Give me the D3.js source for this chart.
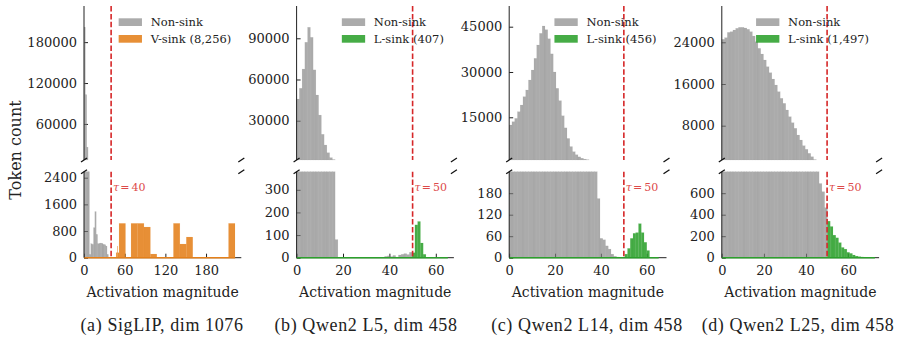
<!DOCTYPE html>
<html>
<head>
<meta charset="utf-8">
<title>Sink token activation histograms</title>
<script src="https://d3js.org/d3.v7.min.js"></script>
<style>
  body { margin: 0; background: #fff; }
  svg text { font-family: "DejaVu Serif", serif; fill: #222; }
</style>
</head>
<body>
<svg width="908" height="338"></svg>
<script>

// ---------- data ----------

// (a) SigLIP, non-sink counts in bins of 2 starting at 0
const aGrayWidth = 2;
const aGrayCount = [202000, 103000, 26000, 4000, 100, 420, 400, 900, 1380, 700,
                    420, 430, 440, 430, 400, 390, 350, 100];
// (a) V-sink bins (low edge, high edge, count)
const aSinkLo    = [47.4, 49.0, 49.8, 51.7, 69.4, 78.9, 88.4, 97.9, 131.9, 141.4, 150.9, 213.2];
const aSinkHi    = [49.0, 49.8, 51.7, 61.2, 78.9, 88.4, 97.9, 107.4, 141.4, 150.9, 160.4, 222.7];
const aSinkCount = [150, 350, 150, 1030, 1030, 1030, 920, 110, 1030, 410, 620, 1030];

// (b) Qwen2 L5
const bBinWidth = 1.186;
const bGrayCount = [45800, 53600, 67600, 87100, 98000, 90700, 67000, 48700, 34100, 20100,
                    12300, 6700, 3100, 1700, 80, 0, 0, 0, 0, 0,
                    0, 0, 0, 0, 0, 0, 0, 0, 0, 0,
                    0, 0, 6, 8, 5, 10, 3, 12, 15, 18,
                    14, 24];
const bSinkFirstBin = 42;
const bSinkCount = [22, 145, 160, 65, 15];

// (c) Qwen2 L14
const cBinWidth = 1.2;
const cGrayCount = [12450, 13540, 14640, 16850, 19060, 21820, 24030, 27340, 30650, 34520,
                    38930, 42800, 45230, 44000, 41000, 36000, 30000, 24600, 20500, 15500,
                    11500, 8000, 5300, 3600, 2600, 1900, 1450, 1150, 950, 700,
                    500, 350, 165, 54, 50, 33, 24, 10, 4, 2];
const cSinkFirstBin = 42;
const cSinkCount = [10, 26, 54, 68, 70, 95, 70, 43, 20];

// (d) Qwen2 L25
const dBinWidth = 1.32;
const dGrayCount = [24570, 24880, 25900, 26030, 26350, 26680, 26870, 26870, 26740, 26490,
                    26030, 25200, 24110, 22840, 21750, 20600, 19310, 18160, 16950, 15800,
                    14520, 13250, 12290, 11010, 9720, 8570, 7500, 6210, 5250, 4160,
                    3470, 2700, 2050, 1500, 1000, 690, 614, 465];
const dSinkFirstBin = 38;
const dSinkCount = [340, 290, 210, 185, 140, 95, 80, 50, 40, 25, 15, 10, 7, 5, 3, 2];

// axis settings per panel
const xDomains   = [[0, 232], [0, 67.8], [0, 68.6], [0, 74.7]];
const xTicks     = [[0, 60, 120, 180], [0, 20, 40, 60], [0, 20, 40, 60], [0, 20, 40, 60]];
const topDomains = [[7100, 233000], [1400, 113500], [860, 51850], [1420, 30960]];
const topTicks   = [[60000, 120000, 180000], [30000, 60000, 90000], [15000, 30000, 45000], [8000, 16000, 24000]];
const botDomains = [[0, 2580], [0, 380], [0, 240], [0, 800]];
const botTicks   = [[0, 800, 1600, 2400], [0, 100, 200, 300], [0, 60, 120, 180], [0, 200, 400, 600]];
const taus       = [40, 50, 50, 50];
const sinkEnds   = [223, 65.2, 65.2, 72.7];
const sinkLabels = ['V-sink (8,256)', 'L-sink (407)', 'L-sink (456)', 'L-sink (1,497)'];
const captions   = ['(a) SigLIP, dim 1076', '(b) Qwen2 L5, dim 458', '(c) Qwen2 L14, dim 458', '(d) Qwen2 L25, dim 458'];

// ---------- helpers ----------

const binned = (width, counts, first = 0) =>
    counts.map((n, i) => ({ lo: (first + i) * width, hi: (first + i + 1) * width, n }));

const grayBins = [
    binned(aGrayWidth, aGrayCount),
    binned(bBinWidth, bGrayCount),
    binned(cBinWidth, cGrayCount),
    binned(dBinWidth, dGrayCount)
];
const sinkBins = [
    aSinkCount.map((n, i) => ({ lo: aSinkLo[i], hi: aSinkHi[i], n })),
    binned(bBinWidth, bSinkCount, bSinkFirstBin),
    binned(cBinWidth, cSinkCount, cSinkFirstBin),
    binned(dBinWidth, dSinkCount, dSinkFirstBin)
];

const ORANGE = '#e4801a', GREEN = '#2ca02c', GRAY = '#7f7f7f', RED = '#d62728';
const sinkColors = [ORANGE, GREEN, GREEN, GREEN];

// ---------- layout ----------

const svg = d3.select('svg');
const panelW = 157.3, panelStep = 212.6, left0 = 84;
const topY = [6, 160];
const botY = [171.7, 257.7];
const captionX = [162, 366, 587, 798];

svg.append('text')
    .attr('transform', 'translate(15,150) rotate(-90)')
    .attr('text-anchor', 'middle')
    .attr('dominant-baseline', 'central')
    .style('font-size', '16px')
    .text('Token count');

xDomains.forEach((xd, i) => {
    const g = svg.append('g').attr('transform', `translate(${left0 + panelStep * i},0)`);

    const x = d3.scaleLinear().domain(xd).range([0, panelW]);
    const yT = d3.scaleLinear().domain(topDomains[i]).range([topY[1], topY[0]]);
    const yB = d3.scaleLinear().domain(botDomains[i]).range([botY[1], botY[0]]);

    // axes (ticks point inward, spines drawn later)
    const styleAxis = sel => {
        sel.select('.domain').remove();
        sel.selectAll('.tick line').attr('stroke', '#222');
        sel.selectAll('.tick text').style('font-size', '13px').attr('fill', '#222');
    };
    g.append('g')
        .call(d3.axisLeft(yT).tickValues(topTicks[i]).tickFormat(d3.format('d'))
            .tickSizeInner(-4).tickSizeOuter(0).tickPadding(7))
        .call(styleAxis);
    g.append('g')
        .call(d3.axisLeft(yB).tickValues(botTicks[i]).tickFormat(d3.format('d'))
            .tickSizeInner(-4).tickSizeOuter(0).tickPadding(7))
        .call(styleAxis);
    g.append('g')
        .attr('transform', `translate(0,${botY[1]})`)
        .call(d3.axisBottom(x).tickValues(xTicks[i]).tickFormat(d3.format('d'))
            .tickSizeInner(-4).tickSizeOuter(0).tickPadding(8))
        .call(styleAxis);

    // histogram bars, drawn in both halves of the broken axis
    const drawBars = (data, color) => {
        const [tMin, tMax] = topDomains[i];
        const bMax = botDomains[i][1];
        const op = color === GRAY ? 0.66 : 0.88;
        g.append('g').selectAll('rect')
            .data(data.filter(d => d.n > tMin))
            .join('rect')
            .attr('x', d => x(d.lo))
            .attr('width', d => x(d.hi) - x(d.lo))
            .attr('y', d => yT(Math.min(d.n, tMax)))
            .attr('height', d => topY[1] - yT(Math.min(d.n, tMax)))
            .attr('fill', color).attr('fill-opacity', op)
            .attr('stroke', color).attr('stroke-opacity', 0.2).attr('stroke-width', 0.4);
        g.append('g').selectAll('rect')
            .data(data.filter(d => d.n > 0))
            .join('rect')
            .attr('x', d => x(d.lo))
            .attr('width', d => x(d.hi) - x(d.lo))
            .attr('y', d => yB(Math.min(d.n, bMax)))
            .attr('height', d => botY[1] - yB(Math.min(d.n, bMax)))
            .attr('fill', color).attr('fill-opacity', op)
            .attr('stroke', color).attr('stroke-opacity', 0.2).attr('stroke-width', 0.4);
    };
    drawBars(grayBins[i], GRAY);
    drawBars(sinkBins[i], sinkColors[i]);

    // spines
    g.append('line').attr('x1', 0).attr('x2', panelW).attr('y1', botY[1]).attr('y2', botY[1])
        .attr('stroke', '#222').attr('stroke-width', 1);
    g.append('line').attr('x1', x(0)).attr('x2', x(sinkEnds[i])).attr('y1', botY[1]).attr('y2', botY[1])
        .attr('stroke', sinkColors[i]).attr('stroke-width', 1.4);
    g.append('line').attr('x1', 0).attr('x2', 0).attr('y1', topY[0]).attr('y2', topY[1])
        .attr('stroke', '#222').attr('stroke-width', 1);
    g.append('line').attr('x1', 0).attr('x2', 0).attr('y1', botY[0]).attr('y2', botY[1])
        .attr('stroke', '#222').attr('stroke-width', 1);

    // break marks
    [[0, topY[1]], [panelW, topY[1]], [0, botY[0]], [panelW, botY[0]]].forEach(([bx, by]) => {
        g.append('line')
            .attr('x1', bx - 3).attr('y1', by + 2)
            .attr('x2', bx + 3).attr('y2', by - 2)
            .attr('stroke', '#111').attr('stroke-width', 1.3);
    });

    // threshold
    const tx = x(taus[i]);
    [topY, botY].forEach(yr => {
        g.append('line')
            .attr('x1', tx).attr('x2', tx).attr('y1', yr[0]).attr('y2', yr[1])
            .attr('stroke', RED).attr('stroke-width', 1.6)
            .attr('stroke-dasharray', '5.5,2.4');
    });
    const tau = g.append('text')
        .attr('x', tx + 2).attr('y', 191)
        .style('font-size', '11px')
        .attr('fill', '#dd4a4a');
    tau.append('tspan').style('font-style', 'italic').attr('fill', '#dd4a4a').text('τ');
    tau.append('tspan').attr('dx', 1).attr('fill', '#dd4a4a').text('=');
    tau.append('tspan').attr('dx', 2).attr('fill', '#dd4a4a').text(String(taus[i]));

    // legend (right aligned inside the top half)
    const leg = g.append('g');
    const t1 = leg.append('text').attr('y', 26).style('font-size', '11.5px').text('Non-sink');
    const t2 = leg.append('text').attr('y', 43).style('font-size', '11.5px').text(sinkLabels[i]);
    const textW = Math.max(t1.node().getComputedTextLength(), t2.node().getComputedTextLength());
    const textX = panelW - 10 - textW;
    t1.attr('x', textX);
    t2.attr('x', textX);
    leg.append('rect').attr('x', textX - 32).attr('y', 18.3).attr('width', 23.3).attr('height', 7.7)
        .attr('fill', GRAY).attr('fill-opacity', 0.66);
    leg.append('rect').attr('x', textX - 32).attr('y', 35).attr('width', 23.3).attr('height', 7.7)
        .attr('fill', sinkColors[i]).attr('fill-opacity', 0.88);

    // x label
    g.append('text')
        .attr('x', panelW / 2).attr('y', 297)
        .attr('text-anchor', 'middle')
        .style('font-size', '14px')
        .text('Activation magnitude');

    // caption
    svg.append('text')
        .attr('x', captionX[i]).attr('y', 331)
        .attr('text-anchor', 'middle')
        .style('font-family', '"Liberation Serif", serif')
        .style('font-size', '18px')
        .style('letter-spacing', '0.6px')
        .text(captions[i]);
});

</script>
</body>
</html>
